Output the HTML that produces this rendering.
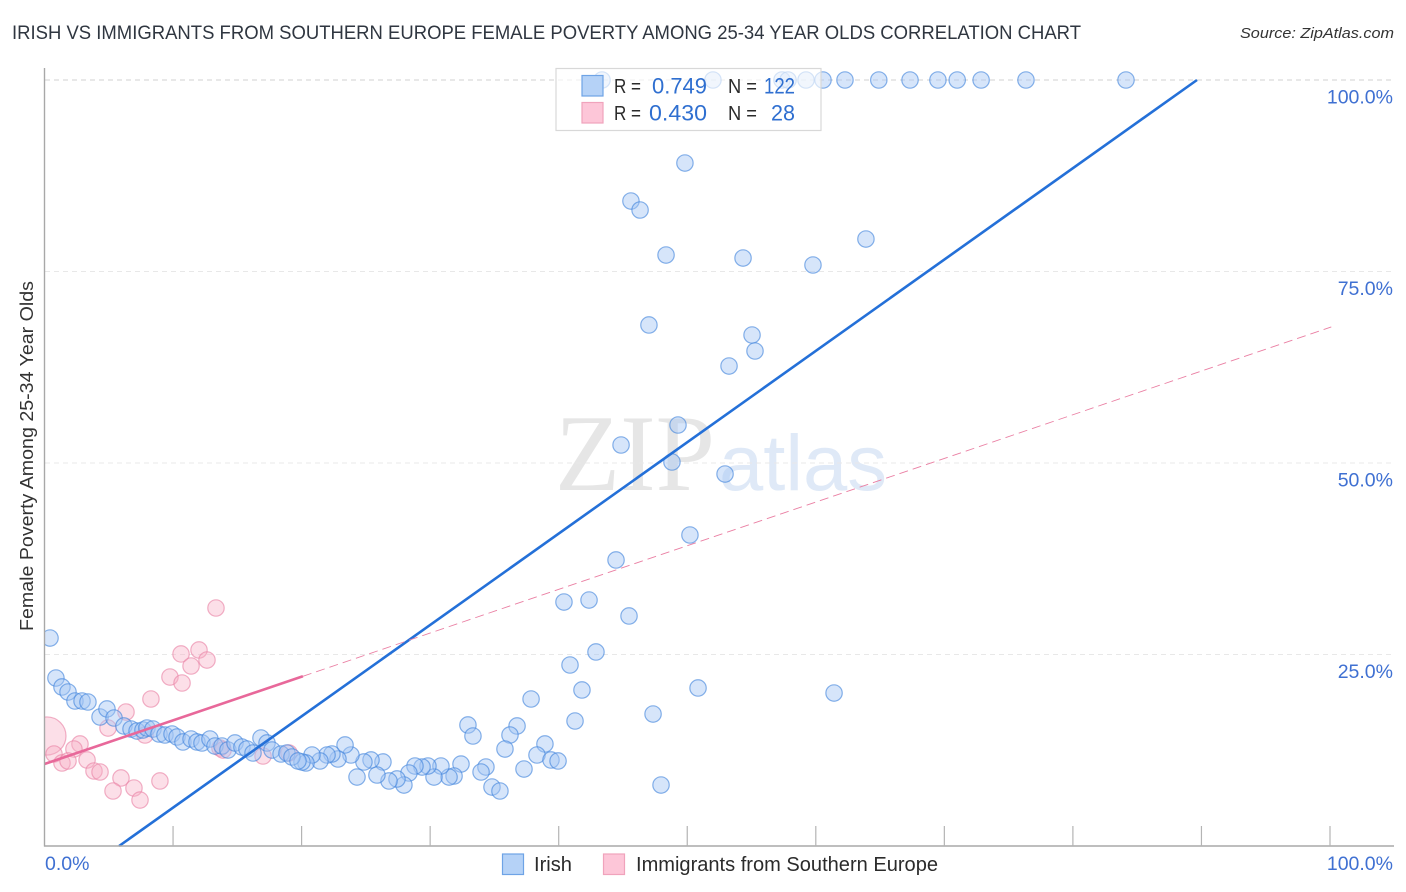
<!DOCTYPE html>
<html lang="en">
<head>
<meta charset="utf-8">
<title>Irish vs Immigrants from Southern Europe Female Poverty Correlation Chart</title>
<style>
html,body{margin:0;padding:0;background:#fff;}
svg{display:block;font-family:"Liberation Sans",sans-serif;}
</style>
</head>
<body>
<svg id="chart" xmlns="http://www.w3.org/2000/svg" width="1406" height="892" viewBox="0 0 1406 892">
  <defs>
    <clipPath id="plot-clip"><rect x="44.5" y="60" width="1350" height="786"/></clipPath>
  </defs>
  <rect x="0" y="0" width="1406" height="892" fill="#fff"/>
  <text x="12" y="39" font-size="19" fill="#2f3640" textLength="1069" lengthAdjust="spacingAndGlyphs">IRISH VS IMMIGRANTS FROM SOUTHERN EUROPE FEMALE POVERTY AMONG 25-34 YEAR OLDS CORRELATION CHART</text>
  <text x="1394" y="38" font-size="15" font-style="italic" fill="#333" text-anchor="end" textLength="154" lengthAdjust="spacingAndGlyphs">Source: ZipAtlas.com</text>

  <g>
    <text x="555" y="490" font-family="'Liberation Serif',serif" font-size="109" fill="#e6e6e6" textLength="160" lengthAdjust="spacingAndGlyphs">ZIP</text>
    <text x="719" y="490" font-size="79" fill="#dfe9f7" textLength="168" lengthAdjust="spacingAndGlyphs">atlas</text>
  </g>

  <g id="grid"></g>
  <g id="points" clip-path="url(#plot-clip)"></g>
  <g id="fits"></g>
  <g id="axes"></g>

  <text transform="translate(33,456) rotate(-90)" font-size="18.5" fill="#333" text-anchor="middle" textLength="350" lengthAdjust="spacingAndGlyphs">Female Poverty Among 25-34 Year Olds</text>

  <g>
    <rect x="556" y="68.5" width="265" height="62" fill="#fff" fill-opacity="0.65" stroke="#d8d8d8" stroke-width="1.2"/>
    <rect x="582" y="75.5" width="21" height="20.5" fill="#b5d2f7" stroke="#6ea3e6" stroke-width="1.2"/>
    <rect x="582" y="102.5" width="21" height="20.5" fill="#fdc6d8" stroke="#f0a3bc" stroke-width="1.2"/>
    <g font-size="20" fill="#2b2b2b">
      <text x="614" y="93" textLength="27" lengthAdjust="spacingAndGlyphs">R =</text>
      <text x="614" y="120" textLength="27" lengthAdjust="spacingAndGlyphs">R =</text>
      <text x="728" y="93" textLength="29" lengthAdjust="spacingAndGlyphs">N =</text>
      <text x="728" y="120" textLength="29" lengthAdjust="spacingAndGlyphs">N =</text>
    </g>
    <g font-size="22" fill="#2f6fd0">
      <text x="652" y="93.5" textLength="55" lengthAdjust="spacingAndGlyphs">0.749</text>
      <text x="649" y="120.5" textLength="58" lengthAdjust="spacingAndGlyphs">0.430</text>
      <text x="764" y="93.5" textLength="31" lengthAdjust="spacingAndGlyphs">122</text>
      <text x="771" y="120.5" textLength="24" lengthAdjust="spacingAndGlyphs">28</text>
    </g>
  </g>

  <g>
    <rect x="502.5" y="854" width="21" height="20.5" fill="#b5d2f7" stroke="#6ea3e6" stroke-width="1.2"/>
    <text x="534" y="871" font-size="20" fill="#2b2b2b" textLength="38" lengthAdjust="spacingAndGlyphs">Irish</text>
    <rect x="603.5" y="854" width="21" height="20.5" fill="#fdc6d8" stroke="#f0a3bc" stroke-width="1.2"/>
    <text x="636" y="871" font-size="20" fill="#2b2b2b" textLength="302" lengthAdjust="spacingAndGlyphs">Immigrants from Southern Europe</text>
  </g>
</svg>
<script>
const irishX = [43.37,52.0,57.37,57.84,59.24,60.56,62.27,64.9,67.33,69.5,71.0,72.86,76.35,84.13,
  49.82,45.62,46.33,63.9,48.35,54.34,59.78,47.02,55.04,55.27,53.25,49.28,44.85,48.81,52.94,50.21,44.46,42.36,40.41,45.47,42.9,40.88,41.81,50.84,61.42,37.85,47.34,41.27,32.94,36.76,33.33,36.21,38.93,35.82,38.31,39.4,39.95,37.3,34.34,33.96,34.81,35.43,47.96,
  32.4,31.86,31.47,30.84,30.3,29.83,29.37,28.82,28.35,27.96,27.42,26.8,26.33,25.86,25.4,24.85,24.31,23.84,23.38,22.83,22.36,21.98,21.43,20.81,20.34,20.03,
  0.43,0.89,1.36,1.83,2.37,2.92,3.38,4.32,4.86,5.41,6.18,6.73,7.2,7.66,7.97,8.44,8.91,9.37,9.92,10.31,10.77,11.4,11.86,12.25,12.87,13.26,13.81,14.27,14.82,15.36,15.75,16.22,16.84,17.31,17.7,18.4,18.86,19.25,19.72];
const irishY = [100,100,100,100,100,100,100,100,100,100,100,100,100,100,
  89.16,84.2,83.03,79.24,77.15,76.76,75.85,68.02,66.71,64.62,62.66,54.96,52.35,50.13,48.56,40.6,37.34,32.11,31.85,30.03,25.33,23.63,20.37,20.63,19.97,19.19,17.23,16.32,15.8,15.67,14.36,14.49,13.32,12.66,11.88,11.23,11.1,10.05,10.31,9.66,7.7,7.18,7.96,
  10.7,9.14,9.0,10.44,9.0,10.44,10.31,10.44,9.53,7.96,8.75,8.49,10.97,9.27,11.23,10.97,9.0,11.88,13.19,11.36,12.01,11.88,11.1,11.88,10.84,10.97,
  27.15,21.93,20.76,20.1,18.93,18.93,18.8,16.84,17.89,16.71,15.67,15.27,15.01,15.14,15.4,15.27,14.62,14.49,14.62,14.23,13.58,13.97,13.58,13.45,13.97,13.05,13.05,12.53,13.45,12.92,12.66,12.14,14.1,13.45,12.53,12.01,12.14,11.62,11.1];

const immigrantsX = [0.19,13.34,10.62,12.02,12.64,11.4,9.76,10.7,8.28,6.34,4.94,7.82,2.76,2.29,0.74,1.36,1.83,3.31,3.85,4.32,5.95,8.98,5.33,6.96,7.43,13.65,13.89,17.0,19.02];
const immigrantsY = [14.36,31.07,25.07,25.59,24.28,23.5,22.06,21.28,19.19,17.49,15.4,14.49,13.32,12.66,12.01,10.84,11.1,11.23,9.79,9.66,8.88,8.49,7.18,7.57,6.0,12.79,12.53,11.75,12.14];
const immigrantsWeight = [5.4,1,1,1,1,1,1,1,1,1,1,1,1,1,1,1,1,1,1,1,1,1,1,1,1,1,1,1,1];

const irishFit = {slope: 1.1926, intercept: -6.92};
const immigrantsFit = {slope: 0.57, intercept: 10.7};
const immigrantsSolidEnd = [20.1];
const immigrantsDashEnd = [100.1];

const xTicks = [10,20,30,40,50,60,70,80,90,100];
const yGridValues = [100,75,50,25];
const yTickLabels = ["100.0%","75.0%","50.0%","25.0%"];
const xTickLabels = ["0.0%","100.0%"];

const NS = 'http://www.w3.org/2000/svg';
function xScale(v){ return 44.5 + v * 12.855; }
function yScale(v){ return 846 - v * 7.66; }
function make(tag, attrs, parent){
  const el = document.createElementNS(NS, tag);
  for (const k in attrs) el.setAttribute(k, attrs[k]);
  parent.appendChild(el);
  return el;
}
const gridG = document.getElementById('grid');
const pointsG = document.getElementById('points');
const fitsG = document.getElementById('fits');
const axesG = document.getElementById('axes');

yGridValues.forEach(function(v, i){
  const line = make('line', {x1:45, x2:1393, y1:yScale(v), y2:yScale(v), stroke: i === 0 ? '#d2d2d2' : '#e8e8e8', 'stroke-width':1, 'stroke-dasharray':'5 4'}, gridG);
  
  
  const label = make('text', {x:1393, y:yScale(v)+23.5, 'text-anchor':'end', 'font-size':19.5, fill:'#3f70d2'}, axesG);
  label.textContent = yTickLabels[i];
  
  
});

immigrantsX.forEach(function(v, i){
  const c = make('circle', {cx:xScale(v), cy:yScale(immigrantsY[i]), r:8.2*Math.sqrt(immigrantsWeight[i]), fill:'#f7aec6', 'fill-opacity':0.4, stroke:'#ea86a8', 'stroke-opacity':0.65, 'stroke-width':1.2}, pointsG);
  
  
});
irishX.forEach(function(v, i){
  const c = make('circle', {cx:xScale(v), cy:yScale(irishY[i]), r:8.2, fill:'#a3c6f3', 'fill-opacity':0.45, stroke:'#3f83dc', 'stroke-opacity':0.62, 'stroke-width':1.2}, pointsG);
  
  
});

const irishStart = -irishFit.intercept / irishFit.slope;
const irishEnd = (100 - irishFit.intercept) / irishFit.slope;
const irishLine = make('line', {x1:xScale(irishStart), y1:yScale(0), x2:xScale(irishEnd), y2:yScale(100), stroke:'#2470d8', 'stroke-width':2.6}, fitsG);



const solidEnd = immigrantsSolidEnd[0];
const dashEnd = immigrantsDashEnd[0];
const pinkDash = make('line', {x1:xScale(solidEnd), y1:yScale(immigrantsFit.intercept+immigrantsFit.slope*solidEnd), x2:xScale(dashEnd), y2:yScale(immigrantsFit.intercept+immigrantsFit.slope*dashEnd), stroke:'#ea7fa3', 'stroke-width':0.9, 'stroke-dasharray':'9 5'}, fitsG);


const pinkSolid = make('line', {x1:xScale(0), y1:yScale(immigrantsFit.intercept), x2:xScale(solidEnd), y2:yScale(immigrantsFit.intercept+immigrantsFit.slope*solidEnd), stroke:'#e8689a', 'stroke-width':2.6}, fitsG);



const yAxis = make('line', {x1:44.5, x2:44.5, y1:68, y2:846.5, stroke:'#a8a8a8', 'stroke-width':1.4}, axesG);


const xAxis = make('line', {x1:44, x2:1394, y1:846, y2:846, stroke:'#a8a8a8', 'stroke-width':1.4}, axesG);


xTicks.forEach(function(v){
  const t = make('line', {x1:xScale(v), x2:xScale(v), y1:826, y2:846, stroke:'#b4b4b4', 'stroke-width':1.2}, axesG);
  
  
});
const xLabelStart = make('text', {x:45, y:870, 'font-size':19.5, fill:'#3f70d2'}, axesG);
xLabelStart.textContent = xTickLabels[0];


const xLabelEnd = make('text', {x:1393, y:870, 'font-size':19.5, 'text-anchor':'end', fill:'#3f70d2'}, axesG);
xLabelEnd.textContent = xTickLabels[1];


</script>
</body>
</html>
